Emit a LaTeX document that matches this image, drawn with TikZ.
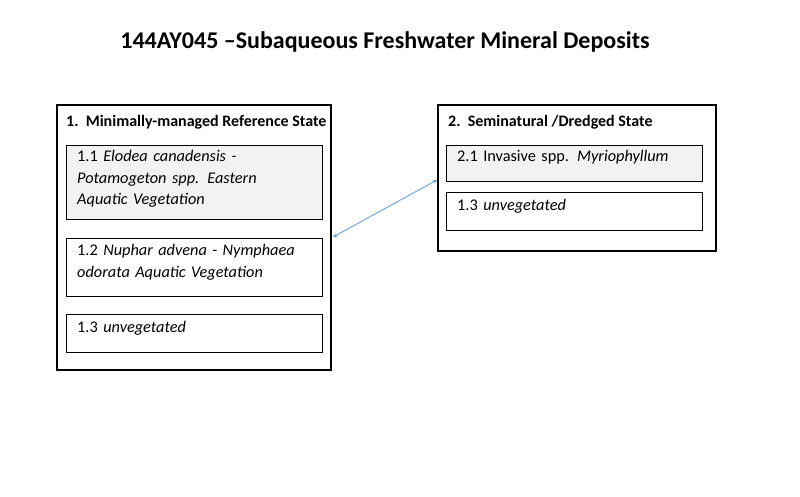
\documentclass[tikz,border=0pt]{standalone}
\usepackage{fontspec}
\setmainfont{Carlito}
\usetikzlibrary{calc}
\definecolor{boxgray}{RGB}{242,242,242}
\definecolor{arrowblue}{RGB}{91,155,213}
\tikzset{
  statebox/.style={draw,line width=1.6pt},
  phasebox/.style={draw,line width=0.8pt},
  boxtext/.style={anchor=north west,align=left,text width=245pt,inner sep=0pt,font=\fontsize{16.3}{21.5}\selectfont},
  headtext/.style={anchor=north west,inner sep=0pt,font=\bfseries\fontsize{16}{19}\selectfont}
}
\begin{document}
\begin{tikzpicture}[x=1pt,y=-1pt]
  \useasboundingbox (0,0) rectangle (800,497);
  \node[font=\bfseries\fontsize{24}{28}\selectfont] (title) at (385,42)
    {144AY045 –Subaqueous Freshwater Mineral Deposits};
  % state 1
  \draw[statebox] (57,105) rectangle (331,370);
  \node[headtext] (s1) at (66,115) {1.\ \ Minimally-managed Reference State};
  \draw[phasebox,fill=boxgray] (66,145) rectangle (322,219);
  \node[boxtext] (p11) at (77,150)
    {1.1 \textit{Elodea canadensis -}\\\textit{Potamogeton spp. Eastern}\\\textit{Aquatic Vegetation}};
  \draw[phasebox] (66,238) rectangle (322,296);
  \node[boxtext] (p12) at (77,244)
    {1.2 \textit{Nuphar advena - Nymphaea}\\\textit{odorata Aquatic Vegetation}};
  \draw[phasebox] (66,314) rectangle (322,352);
  \node[boxtext] (p13) at (77,321) {1.3 \textit{unvegetated}};
  % state 2
  \draw[statebox] (438,105) rectangle (716,251);
  \node[headtext] (s2) at (448,115) {2.\ \ Seminatural /Dredged State};
  \draw[phasebox,fill=boxgray] (446,145) rectangle (702,181);
  \node[boxtext] (p21) at (457,150) {2.1 Invasive spp. \textit{Myriophyllum}};
  \draw[phasebox] (446,192) rectangle (702,230);
  \node[boxtext] (p23) at (457,199) {1.3 \textit{unvegetated}};
  % transition
  \coordinate (t1) at (333,237);
  \coordinate (t2) at (437,180);
  \draw[arrowblue,line width=0.8pt,<->,>=stealth] (t1) -- (t2);
\end{tikzpicture}
\end{document}
